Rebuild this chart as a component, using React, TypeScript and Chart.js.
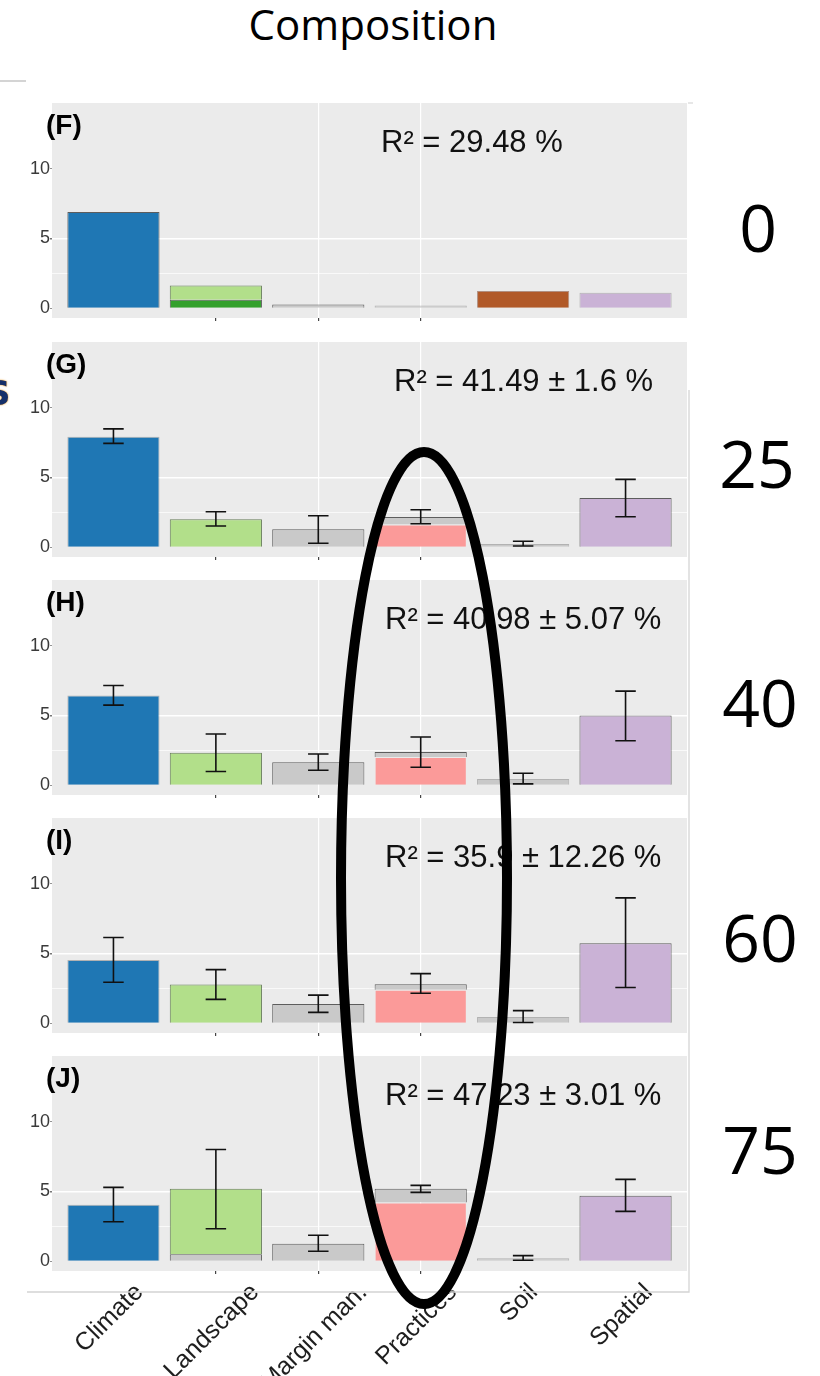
import React, { useEffect, useRef } from 'react';
import { Chart, registerables } from 'chart.js';

Chart.register(...registerables);

// ---------- data ----------
const categories = ['Climate', 'Landscape', 'Margin man.', 'Practices', 'Soil', 'Spatial'];
const panelLetters = ['(F)', '(G)', '(H)', '(I)', '(J)'];
const r2Labels = ['R² = 29.48 %', 'R² = 41.49 ± 1.6 %', 'R² = 40.98 ± 5.07 %', 'R² = 35.9 ± 12.26 %', 'R² = 47.23 ± 3.01 %'];
const sideLabels = ['0', '25', '40', '60', '75'];
const titleText = 'Composition';
const yTickValues = [0, 2.5, 5, 7.5, 10, 12.5];
const yLabelValues = [0, 5, 10];

// panel F
const lowerF = [6.9, 0.6, 0.26, 0.19, 1.24, 1.1];
const upperF = [0, 1.02, 0, 0, 0, 0];
// panel G
const lowerG = [7.91, 0.04, 1.28, 1.63, 0.24, 3.53];
const upperG = [0, 1.97, 0, 0.53, 0, 0];
const errLowG = [7.44, 1.52, 0.28, 1.68, 0.09, 2.18];
const errHighG = [8.48, 2.54, 2.25, 2.68, 0.43, 4.86];
// panel H
const lowerH = [6.43, 0.04, 1.64, 2.02, 0.45, 5.0];
const upperH = [0, 2.29, 0, 0.36, 0, 0];
const errLowH = [5.74, 0.98, 1.07, 1.29, 0.1, 3.19];
const errHighH = [7.14, 3.67, 2.24, 3.45, 0.86, 6.74];
// panel I
const lowerI = [4.53, 0.04, 1.37, 2.39, 0.45, 5.73];
const upperI = [0, 2.73, 0, 0.41, 0, 0];
const errLowI = [2.94, 1.71, 0.78, 2.15, 0.05, 2.56];
const errHighI = [6.14, 3.84, 2.01, 3.55, 0.9, 8.98];
// panel J
const lowerJ = [4.05, 0.5, 1.26, 4.21, 0.21, 4.69];
const upperJ = [0, 4.69, 0, 0.98, 0, 0];
const errLowJ = [2.83, 2.33, 0.71, 4.93, 0.07, 3.57];
const errHighJ = [5.29, 8.0, 1.86, 5.43, 0.4, 5.86];

// ---------- styles ----------
const COL = {
  blue: '#1f77b4',
  lightGreen: '#b2df8a',
  darkGreen: '#33a02c',
  gray: '#c9c9c9',
  pink: '#fb9a99',
  brown: '#b15928',
  lilac: '#cab2d6',
  panel: '#ebebeb',
};
const EDGE = 'rgba(45,45,45,0.75)';
const SOFT = 'rgba(45,45,45,0.3)';
const NONE = 'rgba(0,0,0,0)';

const lowerColorsF = [COL.blue, COL.darkGreen, COL.gray, COL.gray, COL.brown, COL.lilac];
const lowerColorsGHI = [COL.blue, COL.darkGreen, COL.gray, COL.pink, COL.gray, COL.lilac];
const lowerColorsJ = [COL.blue, COL.gray, COL.gray, COL.pink, COL.gray, COL.lilac];
const upperColors = [COL.blue, COL.lightGreen, COL.gray, COL.gray, COL.gray, COL.lilac];

const lowerBordersF = [EDGE, EDGE, EDGE, SOFT, 'rgba(120,50,20,0.5)', SOFT];
const lowerBordersGHI = [SOFT, NONE, EDGE, NONE, SOFT, EDGE];
const lowerBordersJ = [SOFT, EDGE, EDGE, NONE, SOFT, EDGE];
const upperBorders = [SOFT, 'rgba(50,80,30,0.7)', EDGE, EDGE, SOFT, EDGE];

const panels = [
  { lower: lowerF, upper: upperF, lo: null, hi: null, lc: lowerColorsF, lb: lowerBordersF },
  { lower: lowerG, upper: upperG, lo: errLowG, hi: errHighG, lc: lowerColorsGHI, lb: lowerBordersGHI },
  { lower: lowerH, upper: upperH, lo: errLowH, hi: errHighH, lc: lowerColorsGHI, lb: lowerBordersGHI },
  { lower: lowerI, upper: upperI, lo: errLowI, hi: errHighI, lc: lowerColorsGHI, lb: lowerBordersGHI },
  { lower: lowerJ, upper: upperJ, lo: errLowJ, hi: errHighJ, lc: lowerColorsJ, lb: lowerBordersJ },
];

// ---------- layout ----------
const panelTops = [103, 342, 580, 818, 1056];
const PANEL_H = 215;
const CANVAS_W = 687;
const r2Lefts = [381, 394, 385, 385, 385];
const sideCx = [758, 757, 760, 760, 760];
const sideCy = [228, 464, 703, 938, 1150];
const SANS = "'Liberation Sans', Arial, Helvetica, sans-serif";

const bgPlugin = {
  id: 'panelBg',
  beforeDraw(chart: any) {
    const { ctx, chartArea: a } = chart;
    ctx.save();
    ctx.fillStyle = COL.panel;
    ctx.fillRect(a.left, a.top, a.right - a.left, a.bottom - a.top);
    ctx.restore();
  },
};

function makeErrorPlugin(lo: number[] | null, hi: number[] | null) {
  return {
    id: 'errorBars',
    afterDatasetsDraw(chart: any) {
      if (!lo || !hi) return;
      const { ctx, scales } = chart;
      const x = scales.x;
      const y = scales.y;
      ctx.save();
      ctx.strokeStyle = '#111';
      ctx.lineWidth = 1.6;
      lo.forEach((l, i) => {
        const cx = x.getPixelForValue(i);
        const x0 = x.getPixelForValue(i - 0.1);
        const x1 = x.getPixelForValue(i + 0.1);
        const yl = y.getPixelForValue(l);
        const yh = y.getPixelForValue(hi[i]);
        ctx.beginPath();
        ctx.moveTo(cx, yh);
        ctx.lineTo(cx, yl);
        ctx.moveTo(x0, yh);
        ctx.lineTo(x1, yh);
        ctx.moveTo(x0, yl);
        ctx.lineTo(x1, yl);
        ctx.stroke();
      });
      ctx.restore();
    },
  };
}

const centerXLabels = {
  id: 'centerXLabels',
  beforeDraw(chart: any) {
    const sc: any = chart.scales.x;
    if (!sc || !sc.options.ticks.display || typeof sc.getLabelItems !== 'function') return;
    const items = sc.getLabelItems(chart.chartArea);
    const ctx = chart.ctx;
    items.forEach((it: any, i: number) => {
      if (it._centered) return;
      const label = Array.isArray(it.label) ? it.label[0] : it.label;
      ctx.save();
      ctx.font = it.font.string;
      const L = ctx.measureText(String(label)).width;
      ctx.restore();
      const size = it.font.size;
      const px = sc.getPixelForTick(i);
      const ext = (0.7071 * (L + 0.72 * size)) / 2;
      it.options.textAlign = 'center';
      it.options.textBaseline = 'middle';
      it.textOffset = 0;
      it.options.translation = [px - 4, chart.chartArea.bottom + 11 + ext];
      it._centered = true;
    });
  },
};

function Panel({ idx }: { idx: number }) {
  const ref = useRef<HTMLCanvasElement>(null);
  const showX = idx === panels.length - 1;
  const canvasH = showX ? 1376 - panelTops[idx] : PANEL_H + 3;
  useEffect(() => {
    const p = panels[idx];
    const chart = new Chart(ref.current as HTMLCanvasElement, {
      type: 'bar',
      data: {
        datasets: [
          {
            data: p.lower.map((v, i) => ({ x: i, y: v })),
            backgroundColor: p.lc,
            borderColor: p.lb,
            borderWidth: 1,
            barPercentage: 0.9,
            categoryPercentage: 1,
          },
          {
            data: p.upper.map((v, i) => ({ x: i, y: v })),
            backgroundColor: upperColors,
            borderColor: upperBorders,
            borderWidth: 1,
            barPercentage: 0.9,
            categoryPercentage: 1,
          },
        ],
      } as any,
      options: {
        animation: false,
        responsive: false,
        maintainAspectRatio: false,
        layout: { padding: 0, autoPadding: false },
        plugins: { legend: { display: false }, tooltip: { enabled: false }, title: { display: false } },
        scales: {
          x: {
            type: 'linear',
            min: -0.6,
            max: 5.6,
            stacked: true,
            offset: false,
            afterBuildTicks: (ax: any) => {
              ax.ticks = categories.map((_, i) => ({ value: i }));
            },
            afterFit: (ax: any) => {
              ax.height = canvasH - PANEL_H;
              ax.paddingLeft = 0;
              ax.paddingRight = 0;
            },
            ticks: {
              display: showX,
              autoSkip: false,
              minRotation: 45,
              maxRotation: 45,
              callback: (v: any) => categories[Math.round(Number(v))] ?? '',
              font: { family: SANS, size: 25 },
              color: '#1e1e1e',
              padding: 4,
            },
            grid: {
              offset: false,
              drawOnChartArea: true,
              color: (c: any) => (c.index === 2 || c.index === 3 ? '#ffffff' : 'rgba(0,0,0,0)'),
              lineWidth: 1.2,
              drawTicks: true,
              tickLength: 3,
              tickColor: (c: any) => (c.index >= 1 && c.index <= 3 ? '#444' : 'rgba(0,0,0,0)'),
            },
            border: { display: false },
          },
          y: {
            type: 'linear',
            min: -0.7,
            max: 14.7,
            stacked: true,
            afterBuildTicks: (ax: any) => {
              ax.ticks = yTickValues.map((v) => ({ value: v }));
            },
            afterFit: (ax: any) => {
              ax.width = 52;
              ax.paddingTop = 0;
              ax.paddingBottom = 0;
            },
            ticks: {
              autoSkip: false,
              callback: (v: any) => (yLabelValues.includes(Number(v)) ? String(v) : ''),
              font: { family: SANS, size: 18 },
              color: '#3a3a3a',
              padding: 0,
            },
            grid: {
              color: (c: any) => {
                const v = c.tick ? c.tick.value : null;
                if (v === 5) return '#ffffff';
                if (v === 2.5) return 'rgba(255,255,255,0.85)';
                return 'rgba(0,0,0,0)';
              },
              lineWidth: (c: any) => (c.tick && c.tick.value === 5 ? 1.4 : 0.8),
              drawTicks: true,
              tickLength: 2,
              tickColor: (c: any) =>
                c.tick && yLabelValues.includes(c.tick.value) ? '#777' : 'rgba(0,0,0,0)',
            },
            border: { display: false },
          },
        },
      } as any,
      plugins: [bgPlugin, makeErrorPlugin(p.lo, p.hi), centerXLabels] as any,
    });
    return () => chart.destroy();
  }, [idx]);
  return (
    <canvas
      ref={ref}
      width={CANVAS_W}
      height={canvasH}
      style={{ position: 'absolute', left: 0, top: panelTops[idx], width: CANVAS_W, height: canvasH }}
    />
  );
}

export default function App() {
  return (
    <div
      style={{
        position: 'absolute',
        left: 0,
        top: 0,
        width: 820,
        height: 1376,
        overflow: 'hidden',
        background: '#ffffff',
      }}
    >
      <div
        style={{
          position: 'absolute',
          left: 173,
          top: 3,
          width: 400,
          textAlign: 'center',
          fontFamily: "'Open Sans', sans-serif",
          fontSize: 42,
          lineHeight: 1,
          color: '#000',
          whiteSpace: 'nowrap',
        }}
      >
        {titleText}
      </div>

      {panels.map((_, i) => (
        <Panel key={i} idx={i} />
      ))}

      {panelLetters.map((t, i) => (
        <div
          key={'l' + i}
          style={{
            position: 'absolute',
            left: 46,
            top: panelTops[i] + 8,
            fontFamily: SANS,
            fontWeight: 'bold',
            fontSize: 28,
            lineHeight: 1,
            color: '#000',
            whiteSpace: 'nowrap',
          }}
        >
          {t}
        </div>
      ))}

      {r2Labels.map((t, i) => (
        <div
          key={'r' + i}
          style={{
            position: 'absolute',
            left: r2Lefts[i],
            top: panelTops[i] + 23,
            fontFamily: SANS,
            fontSize: 31,
            lineHeight: 1,
            color: '#111',
            whiteSpace: 'nowrap',
          }}
        >
          {t}
        </div>
      ))}

      {sideLabels.map((t, i) => (
        <div
          key={'s' + i}
          style={{
            position: 'absolute',
            left: sideCx[i] - 60,
            width: 120,
            top: sideCy[i] - 35,
            textAlign: 'center',
            fontFamily: "'Open Sans', sans-serif",
            fontSize: 66,
            lineHeight: 1,
            color: '#000',
            whiteSpace: 'nowrap',
          }}
        >
          {t}
        </div>
      ))}

      <div
        style={{
          position: 'absolute',
          left: -14,
          top: 376,
          fontFamily: "'DejaVu Sans', sans-serif",
          fontWeight: 'bold',
          fontSize: 34,
          lineHeight: 1,
          color: '#16306a',
          textShadow: '0 0 1px #e8a03a, 0 0 2px #e8a03a',
        }}
      >
        S
      </div>

      <svg
        width={820}
        height={1376}
        style={{ position: 'absolute', left: 0, top: 0, pointerEvents: 'none' }}
      >
        <line x1={0} y1={81} x2={26} y2={81} stroke="#c6c6c6" strokeWidth={1.5} />
        <line x1={688} y1={103} x2={693} y2={103} stroke="#cfcfcf" strokeWidth={1} />
        <path d="M689 390 V1292 H27" fill="none" stroke="#d4d4d4" strokeWidth={1.3} />
        <ellipse cx={424} cy={878} rx={83} ry={426} fill="none" stroke="#000" strokeWidth={10} />
      </svg>
    </div>
  );
}
